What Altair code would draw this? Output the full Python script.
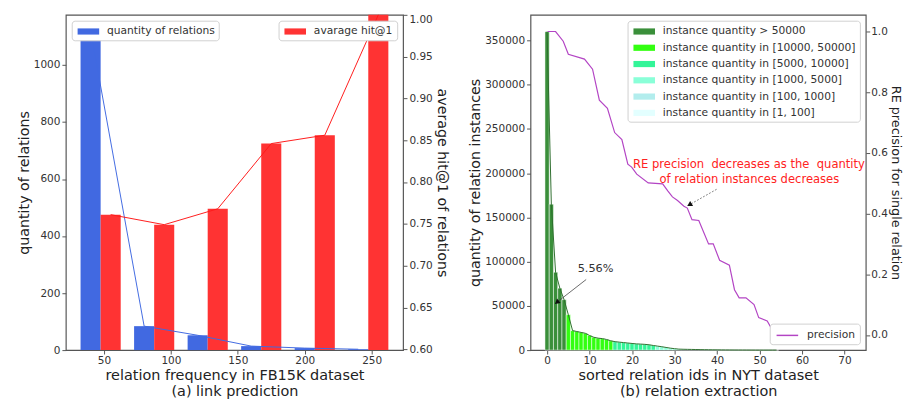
import altair as alt
import pandas as pd

FONT = "DejaVu Sans"

# ---------------- (a) link prediction ----------------
group_centers = [40, 80, 120, 160, 200, 240]
relation_quantity = [1120, 84, 52, 14, 7, 3]
average_hit1 = [0.761, 0.749, 0.768, 0.846, 0.856, 1.0]
freq_ticks = [50, 100, 150, 200, 250]
qty_ticks = [0, 200, 400, 600, 800, 1000]
hit_ticks = [0.60, 0.65, 0.70, 0.75, 0.80, 0.85, 0.90, 0.95, 1.00]

# ---------------- (b) relation extraction ----------------
instance_quantity = [360000, 165000, 88000, 70000, 57000,
                     40000, 22000, 21000, 20000, 19000, 16500, 14500, 13500, 13000, 12000, 10500,
                     9500, 9000, 8500, 8000, 7500, 7000, 6800, 6500, 6000, 5200,
                     4500, 3800, 3000, 2200, 1600, 1100,
                     950, 850, 750, 650, 550, 480, 400, 340, 280, 230, 180, 150, 120,
                     95, 80, 65, 50, 40, 30, 20, 15, 10, 5]
category_labels = ["instance quantity > 50000",
                   "instance quantity in [10000, 50000]",
                   "instance quantity in [5000, 10000]",
                   "instance quantity in [1000, 5000]",
                   "instance quantity in [100, 1000]",
                   "instance quantity in [1, 100]"]
category_lower = [50000, 10000, 5000, 1000, 100, 1]
category_colors = ["#3a8f3a", "#33ff11", "#33f598", "#8affd8", "#b2eded", "#e3ffff"]

precision_x = [0.15, 2, 3.8, 5, 8.8, 10.7, 12.3, 14.2, 15.9, 17.6, 19, 19.9, 21.1, 23.8,
               27.2, 28.4, 29.5, 30.7, 32.2, 33, 34.1, 35.7, 38, 39.1, 40.6, 42.9, 44.1,
               45.2, 46.8, 48.7, 49.8, 51.8, 53.5]
precision_y = [1.0, 1.0, 0.968, 0.925, 0.909, 0.876, 0.774, 0.747, 0.667, 0.644, 0.563,
               0.553, 0.53, 0.501, 0.498, 0.475, 0.455, 0.443, 0.424, 0.418, 0.38, 0.377,
               0.30, 0.30, 0.246, 0.23, 0.149, 0.122, 0.122, 0.10, 0.057, 0.046, 0.004]
id_ticks = [0, 10, 20, 30, 40, 50, 60, 70]
inst_ticks = [0, 50000, 100000, 150000, 200000, 250000, 300000, 350000]
prec_ticks = [0.0, 0.2, 0.4, 0.6, 0.8, 1.0]

pct_text = ["5.56%"]
pct_pos = [(11.4, 92000)]
pct_arrow = [(9.2, 79800, 2.3, 54000, 232)]
note_lines = ["RE precision \u00a0decreases as the \u00a0quantity", "of relation instances decreases"]
note_pos = [(47.5, 0.5635), (47.6, 0.515)]
note_arrow = [(39.9, 0.48, 33.5, 0.429, 240)]

BAR_W = 15
SWATCH = "M-0.714,-0.45H2.43V0.45H-0.714Z"
LINE_SWATCH = "M-0.714,0H2.43"

# ---------------- data frames ----------------
blue_df = pd.DataFrame({
    "x0": [g - BAR_W / 2 for g in group_centers],
    "x1": [g + BAR_W / 2 for g in group_centers],
    "xc": group_centers,
    "qty": relation_quantity,
    "series": "quantity of relations",
})
red_df = pd.DataFrame({
    "x0": [g + BAR_W / 2 for g in group_centers],
    "x1": [g + BAR_W * 1.5 for g in group_centers],
    "xc": [g + BAR_W for g in group_centers],
    "hit": average_hit1,
    "series": "avarage hit@1",
})


def category(v):
    for lab, low in zip(category_labels, category_lower):
        if v >= low:
            return lab
    return category_labels[-1]


ids = list(range(len(instance_quantity)))
inst_df = pd.DataFrame({
    "id": ids,
    "x0": [i - 0.5 for i in ids],
    "x1": [i + 0.5 for i in ids],
    "count": instance_quantity,
    "cat": [category(v) for v in instance_quantity],
})
prec_df = pd.DataFrame({"x": precision_x, "p": precision_y, "series": "precision"})
pct_df = pd.DataFrame({"x": [p[0] for p in pct_pos], "y": [p[1] for p in pct_pos], "t": pct_text})
pct_arrow_df = pd.DataFrame(pct_arrow, columns=["x", "y", "x2", "y2", "ang"])
note_df = pd.DataFrame({"x": [p[0] for p in note_pos], "y": [p[1] for p in note_pos], "t": note_lines})
note_arrow_df = pd.DataFrame(note_arrow, columns=["x", "y", "x2", "y2", "ang"])


def legend(orient, symbol=SWATCH, sw=0):
    return alt.Legend(orient=orient, title=None, offset=6, symbolType=symbol, symbolSize=196,
                      symbolStrokeWidth=sw, labelFontSize=10.9, labelFont=FONT, labelColor="#333",
                      labelOffset=18, labelLimit=400, padding=4, rowPadding=4.6, fillColor="white",
                      strokeColor="#d0d0d0", cornerRadius=3)


# ---------------- panel (a) ----------------
xa_scale = alt.Scale(domain=[21.5, 273.5], nice=False, zero=False)
xa_axis = alt.Axis(values=freq_ticks, title=["relation frequency in FB15K dataset", "(a) link prediction"],
                   titleFontSize=14.7)
qty_scale = dict(domain=[0, 1176], nice=False, zero=False)
HIT_BASE = 0.599
hit_scale = dict(domain=[HIT_BASE, 1.0], nice=False, zero=False)

blue_bars = alt.Chart(blue_df).mark_bar().encode(
    x=alt.X("x0:Q", scale=xa_scale, axis=xa_axis),
    x2="x1:Q",
    y=alt.Y("qty:Q", scale=alt.Scale(**qty_scale),
            axis=alt.Axis(orient="left", values=qty_ticks, format="d", title="quantity of relations")),
    y2=alt.datum(0),
    color=alt.Color("series:N", scale=alt.Scale(domain=["quantity of relations"], range=["#4169e1"]),
                    legend=legend("top-left")),
)
red_bars = alt.Chart(red_df).mark_bar().encode(
    x=alt.X("x0:Q", scale=xa_scale, axis=xa_axis),
    x2="x1:Q",
    y=alt.Y("hit:Q", scale=alt.Scale(**hit_scale),
            axis=alt.Axis(orient="right", values=hit_ticks, format=".2f", labelFlush=0.5,
                          title="average hit@1 of relations")),
    y2=alt.datum(HIT_BASE),
    color=alt.Color("series:N", scale=alt.Scale(domain=["avarage hit@1"], range=["#ff3333"]),
                    legend=legend("top-right")),
)
blue_line = alt.Chart(blue_df).mark_line(color="#4169e1", strokeWidth=1).encode(
    x=alt.X("xc:Q", scale=xa_scale, axis=xa_axis),
    y=alt.Y("qty:Q", scale=alt.Scale(**qty_scale), axis=None),
)
red_line = alt.Chart(red_df).mark_line(color="#ff1a1a", strokeWidth=1).encode(
    x=alt.X("xc:Q", scale=xa_scale, axis=xa_axis),
    y=alt.Y("hit:Q", scale=alt.Scale(**hit_scale), axis=None),
)
left = alt.layer(blue_bars, red_bars, blue_line, red_line).resolve_scale(
    y="independent", color="independent").properties(width=344, height=342)

# ---------------- panel (b) ----------------
xb_scale = alt.Scale(domain=[-3.9, 75], nice=False, zero=False)
xb_axis = alt.Axis(values=id_ticks, title=["sorted relation ids in NYT dataset", "(b) relation extraction"],
                   titleFontSize=14.7)
inst_scale = dict(domain=[0, 379000], nice=False, zero=False)
prec_scale = dict(domain=[-0.05, 1.055], nice=False, zero=False)

inst_bars = alt.Chart(inst_df).mark_bar(stroke="white", strokeWidth=0.5).encode(
    x=alt.X("x0:Q", scale=xb_scale, axis=xb_axis),
    x2="x1:Q",
    y=alt.Y("count:Q", scale=alt.Scale(**inst_scale),
            axis=alt.Axis(orient="left", values=inst_ticks, format="d", title="quantity of relation instances")),
    y2=alt.datum(0),
    color=alt.Color("cat:N", scale=alt.Scale(domain=category_labels, range=category_colors),
                    sort=category_labels, legend=legend("top-right")),
)
inst_line = alt.Chart(inst_df).mark_line(color="#2d6e2d", strokeWidth=1).encode(
    x=alt.X("id:Q", scale=xb_scale, axis=xb_axis),
    y=alt.Y("count:Q", scale=alt.Scale(**inst_scale), axis=None),
)
prec_line = alt.Chart(prec_df).mark_line(strokeWidth=1.2).encode(
    x=alt.X("x:Q", scale=xb_scale, axis=xb_axis),
    y=alt.Y("p:Q", scale=alt.Scale(**prec_scale),
            axis=alt.Axis(orient="right", values=prec_ticks, format=".1f", labelPadding=1,
                          titlePadding=1, titleFontSize=13, title="RE precision for single relation")),
    stroke=alt.Stroke("series:N", scale=alt.Scale(domain=["precision"], range=["#b344c4"]),
                      legend=legend("bottom-right", LINE_SWATCH, 1.5)),
)
pct_label = alt.Chart(pct_df).mark_text(font=FONT, fontSize=11.5, color="#333").encode(
    x=alt.X("x:Q", scale=xb_scale, axis=xb_axis),
    y=alt.Y("y:Q", scale=alt.Scale(**inst_scale), axis=None),
    text="t:N",
)
pct_rule = alt.Chart(pct_arrow_df).mark_rule(color="#444", strokeWidth=0.8).encode(
    x=alt.X("x:Q", scale=xb_scale, axis=xb_axis),
    y=alt.Y("y:Q", scale=alt.Scale(**inst_scale), axis=None),
    x2="x2:Q", y2="y2:Q",
)
pct_head = alt.Chart(pct_arrow_df).mark_point(shape="triangle-up", filled=True, color="#111", size=35, opacity=1).encode(
    x=alt.X("x2:Q", scale=xb_scale, axis=xb_axis),
    y=alt.Y("y2:Q", scale=alt.Scale(**inst_scale), axis=None),
    angle=alt.Angle("ang:Q", scale=None),
)
note_text = alt.Chart(note_df).mark_text(font=FONT, fontSize=11.8, color="#ff2222").encode(
    x=alt.X("x:Q", scale=xb_scale, axis=xb_axis),
    y=alt.Y("y:Q", scale=alt.Scale(**prec_scale), axis=None),
    text="t:N",
)
note_rule = alt.Chart(note_arrow_df).mark_rule(color="#666", strokeWidth=0.8, strokeDash=[2, 1.5]).encode(
    x=alt.X("x:Q", scale=xb_scale, axis=xb_axis),
    y=alt.Y("y:Q", scale=alt.Scale(**prec_scale), axis=None),
    x2="x2:Q", y2="y2:Q",
)
note_head = alt.Chart(note_arrow_df).mark_point(shape="triangle-up", filled=True, color="#111", size=35, opacity=1).encode(
    x=alt.X("x2:Q", scale=xb_scale, axis=xb_axis),
    y=alt.Y("y2:Q", scale=alt.Scale(**prec_scale), axis=None),
    angle=alt.Angle("ang:Q", scale=None),
)
right = alt.layer(inst_bars, inst_line, prec_line, pct_label, pct_rule, pct_head,
                  note_text, note_rule, note_head).resolve_scale(
    y="independent", color="independent", stroke="independent").properties(width=342, height=342)

chart = alt.hconcat(left, right, spacing=17).resolve_scale(
    color="independent", stroke="independent"
).properties(
    padding={"left": 8, "top": 0, "right": 3, "bottom": 0},
    background="white",
).configure_view(
    stroke="#555", strokeWidth=1.2,
).configure_axis(
    grid=False, domain=False,
    labelFont=FONT, labelFontSize=10.7, labelColor="#333", labelPadding=2,
    tickSize=4, tickColor="#555", tickWidth=1,
    titleFont=FONT, titleFontSize=14.5, titleColor="#222", titleFontWeight="normal",
    titlePadding=2, titleLineHeight=16.5,
)

chart.save("out.html", embed_options={"renderer": "svg", "actions": False})
